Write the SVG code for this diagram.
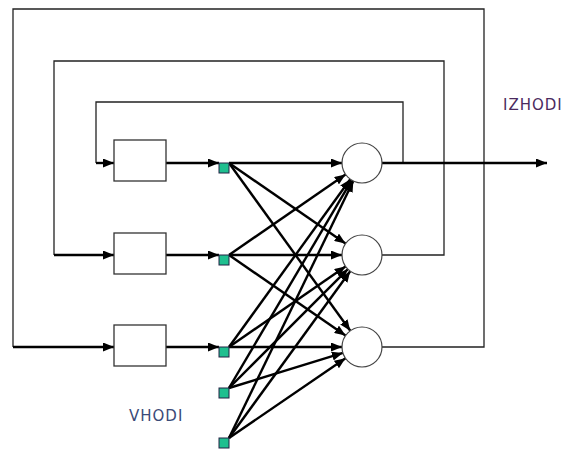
<svg xmlns="http://www.w3.org/2000/svg" width="571" height="450" viewBox="0 0 571 450">
<style>
.loop{fill:none;stroke:#222;stroke-width:1.3}
.arr{fill:none;stroke:#000;stroke-width:2.4;marker-end:url(#ah)}
.box{fill:#fff;stroke:#333;stroke-width:1.3}
.neu{fill:#fff;stroke:#444;stroke-width:1.2}
.inp{fill:#1fbf8f;stroke:#224;stroke-width:1}
.lbl{font-family:"DejaVu Sans",Verdana,sans-serif;font-size:15px;letter-spacing:1px}
</style>
<defs>
<marker id="ah" markerUnits="userSpaceOnUse" markerWidth="11" markerHeight="9" refX="11" refY="4.5" orient="auto">
<path d="M0,0 L11,4.5 L0,9 z" fill="#000"/>
</marker>
</defs>
<g id="connectors">
<polyline class="loop" points="403,163 403,102 96,102 96,163"/>
<polyline class="loop" points="382,255 444,255 444,61 54,61 54,255"/>
<polyline class="loop" points="382,347 484,347 484,9 13,9 13,347"/>
<line class="arr" x1="96" y1="163" x2="114" y2="163"/>
<line class="arr" x1="54" y1="255" x2="114" y2="255"/>
<line class="arr" x1="13" y1="347" x2="114" y2="347"/>
<line class="arr" x1="166" y1="163" x2="219" y2="163"/>
<line class="arr" x1="166" y1="255" x2="219" y2="255"/>
<line class="arr" x1="166" y1="347" x2="219" y2="347"/>
<line class="arr" x1="382" y1="163" x2="547" y2="163"/>
<line class="arr" x1="229" y1="163" x2="342" y2="163"/>
<line class="arr" x1="229" y1="255" x2="345.5" y2="174.4"/>
<line class="arr" x1="229" y1="347" x2="350.3" y2="179.2"/>
<line class="arr" x1="229" y1="388" x2="351.8" y2="180.2"/>
<line class="arr" x1="229" y1="438" x2="353.3" y2="181"/>
<line class="arr" x1="229" y1="163" x2="345.5" y2="243.6"/>
<line class="arr" x1="229" y1="255" x2="342" y2="255"/>
<line class="arr" x1="229" y1="347" x2="345.5" y2="266.4"/>
<line class="arr" x1="229" y1="388" x2="347.9" y2="269.1"/>
<line class="arr" x1="229" y1="438" x2="350.2" y2="271.2"/>
<line class="arr" x1="229" y1="163" x2="350.3" y2="330.8"/>
<line class="arr" x1="229" y1="255" x2="345.5" y2="335.6"/>
<line class="arr" x1="229" y1="347" x2="342" y2="347"/>
<line class="arr" x1="229" y1="388" x2="342.9" y2="352.9"/>
<line class="arr" x1="229" y1="438" x2="345.5" y2="358.3"/>
</g>
<g id="box1"><rect class="box" x="114" y="140" width="52" height="41"/></g>
<g id="box2"><rect class="box" x="114" y="233" width="52" height="41"/></g>
<g id="box3"><rect class="box" x="114" y="325" width="52" height="41"/></g>
<g id="in1"><rect class="inp" x="219" y="163" width="10" height="10"/></g>
<g id="in2"><rect class="inp" x="219" y="255" width="10" height="10"/></g>
<g id="in3"><rect class="inp" x="219" y="347" width="10" height="10"/></g>
<g id="in4"><rect class="inp" x="219" y="388" width="10" height="10"/></g>
<g id="in5"><rect class="inp" x="219" y="438" width="10" height="10"/></g>
<g id="n1"><circle class="neu" cx="362" cy="163" r="20"/></g>
<g id="n2"><circle class="neu" cx="362" cy="255" r="20"/></g>
<g id="n3"><circle class="neu" cx="362" cy="347" r="20"/></g>
<g id="labels">
<text class="lbl" x="503" y="110" fill="#4a2a5e">IZHODI</text>
<text class="lbl" x="129" y="421" fill="#3a4a78">VHODI</text>
</g>
</svg>
